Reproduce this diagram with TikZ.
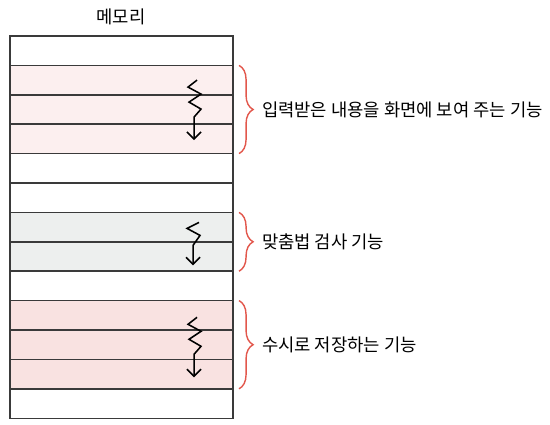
\documentclass[tikz,border=0pt]{standalone}
\usepackage{fontspec}
\newfontfamily\kr{Noto Sans CJK KR}
\usetikzlibrary{arrows.meta,positioning,calc,decorations.pathreplacing}
\definecolor{bracered}{HTML}{E2574C}
\definecolor{rowA}{HTML}{FCEFEF}
\definecolor{rowB}{HTML}{EDEFEE}
\definecolor{rowC}{HTML}{F9E2E1}
\definecolor{edge}{HTML}{3A3A3A}

\begin{document}
\begin{tikzpicture}[x=0.025cm, y=-0.025cm,
    cell/.style={minimum width=5.575cm, minimum height=0.735cm, inner sep=0pt, outer sep=0pt},
    zz/.style={-{Straight Barb[length=5pt,width=10pt]}, line width=1.1pt},
    brc/.style={decorate, decoration={brace, amplitude=10pt}, bracered, line width=1pt},
    lbl/.style={anchor=west, font=\kr\fontsize{12.6}{14}\selectfont}
  ]
  \useasboundingbox (0,0) rectangle (550,425);

  % memory cells
  \foreach \i/\f in {1/white,2/rowA,3/rowA,4/rowA,5/white,6/white,7/rowB,
                     8/rowB,9/white,10/rowC,11/rowC,12/rowC,13/white}
    \node[cell, fill=\f] (c\i) at (121.5, {36+29.4*(\i-0.5)}) {};
  \foreach \i in {1,...,13}
    \draw[edge, line width=1pt] (c\i.north west) rectangle (c\i.south east);

  \node[font=\kr\fontsize{12.6}{14}\selectfont] (title) at (121,17) {메모리};

  % zigzag arrows
  \draw[zz] ($(c2.east)+(-36,0)$) -- ++(-9,7) -- ++(13,7) -- ++(-12,8)
    -- ++(12,7) -- ++(-7,8) -- ++(0,23);
  \draw[zz] ($(c7.north east)+(-34,10)$) -- ++(-12,6) -- ++(13,7) -- ++(-7,10)
    -- ++(0,20);
  \draw[zz] ($(c10.east)+(-36,2)$) -- ++(-9,7) -- ++(13,7) -- ++(-12,8)
    -- ++(12,7) -- ++(-7,8) -- ++(0,23);

  % braces
  \draw[brc] ($(c2.north east)+(6,0)$) -- ($(c4.south east)+(6,0)$);
  \draw[brc] ($(c7.north east)+(6,0)$) -- ($(c8.south east)+(6,0)$);
  \draw[brc] ($(c10.north east)+(6,0)$) -- ($(c12.south east)+(6,0)$);

  \node[lbl] (screen) at ($(c3.east)+(24,0)$) {입력받은 내용을 화면에 보여 주는 기능};
  \node[lbl] (spell) at ($(c7.south east)+(24,0)$) {맞춤법 검사 기능};
  \node[lbl] (save) at ($(c11.east)+(24,0)$) {수시로 저장하는 기능};
\end{tikzpicture}
\end{document}
